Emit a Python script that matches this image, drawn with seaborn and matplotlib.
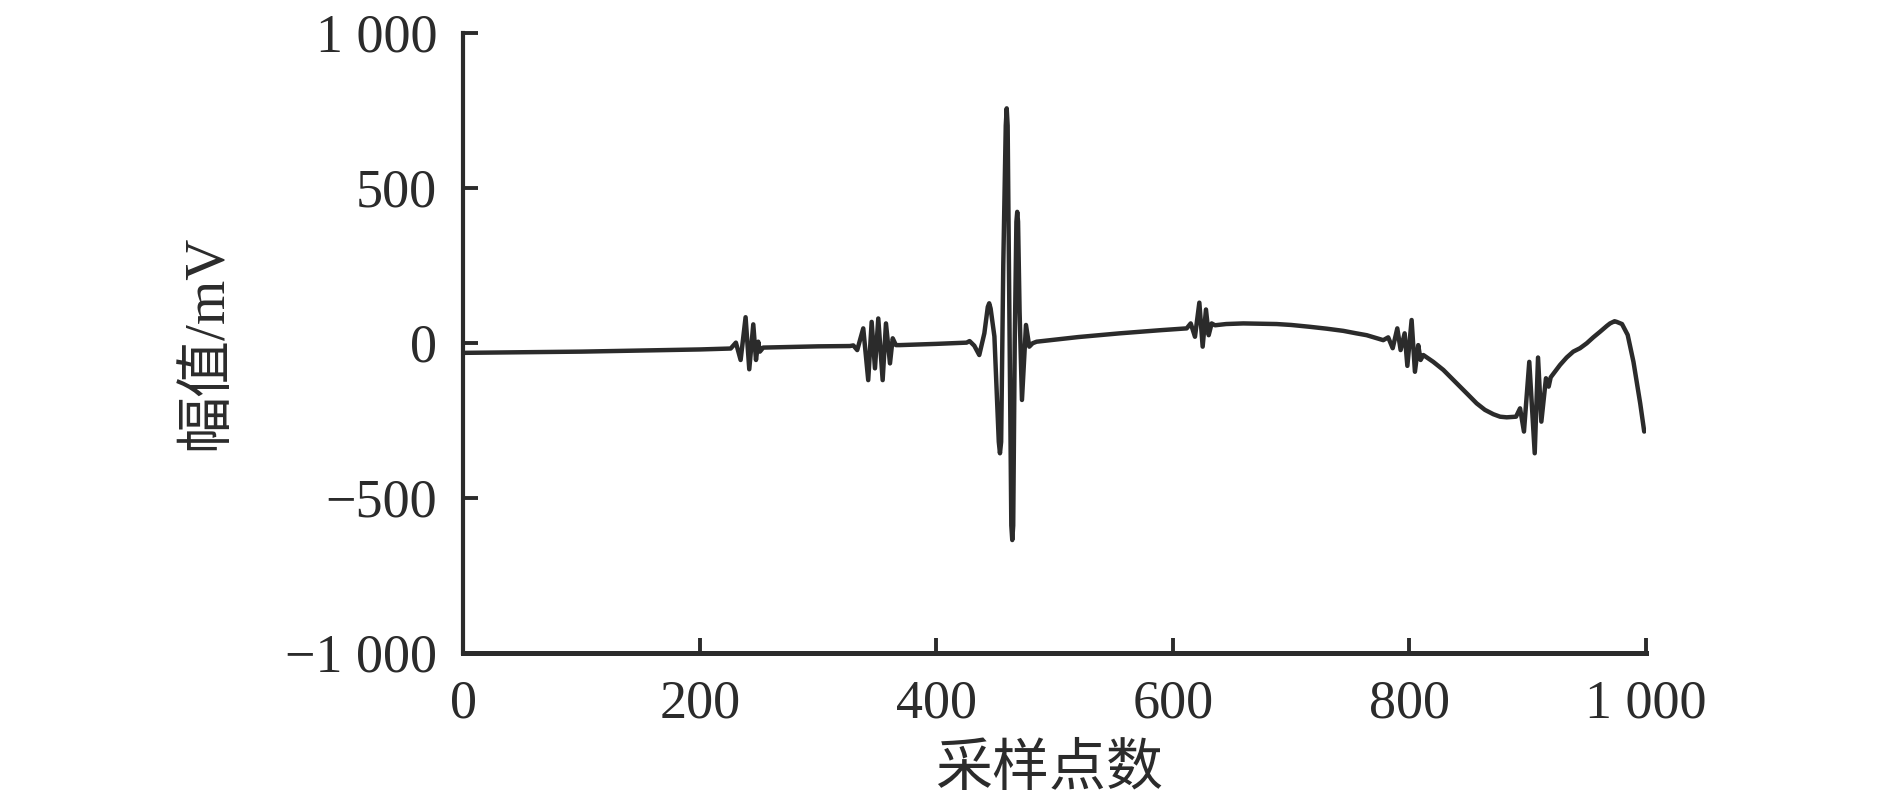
import matplotlib
matplotlib.use("Agg")
import matplotlib.pyplot as plt
import seaborn as sns
import pandas as pd

# ---- data (sample index, amplitude in mV) ----
sample_idx = [0, 100, 200, 226, 230.4, 234.4, 238.6, 241.7, 245.1, 247.4, 249.3, 250.7, 253.5,
              300, 326.8, 329.7, 333, 338.1, 342.3, 345.2, 348, 350.8, 354.5, 357.3, 360.7, 363, 365.7, 369.1,
              400, 425.5, 428, 432, 436.2, 440.5, 443.4, 444.6, 445.8, 449, 452.7, 453.7, 454.7, 456.5,
              458.6, 459.4, 460.2, 461.8, 463.3, 464.1, 464.9, 466.2, 467.6, 468.3, 469, 470.3,
              472.3, 475.7, 478.5, 481.3, 484.7, 520, 555,
              589, 611.6, 615, 618.6, 622.3, 625.1, 627.9, 630.2, 632.7, 635.5, 645, 659.5, 687.7, 700,
              715.9, 730, 744, 755, 763.8,
              777.8, 782, 785.8, 789.7, 792.5, 795.9, 798.2, 801.8, 804.6, 807.4, 809.4, 811.7,
              820.1, 828.6, 835.7, 842.7, 849.8, 856.8, 863.8, 870.9, 876.6, 882.2, 890.1, 893.5, 896.8,
              901.3, 905.9, 908.7, 911.5, 915.4, 917.7,
              919.4, 927.3, 932.9, 938.5, 944.2, 949.9, 955.4, 961.1, 966.9, 969.6, 973.4, 975.2, 979.7,
              984.5, 989.4, 995.1, 998.5]
amplitude = [-33, -29, -22, -19, 0, -56, 82, -86, 59, -56, 3, -29, -16,
             -12, -11, -9, -24, 46, -121, 67, -83, 78, -121, 62, -67, 14, -8, -8,
             -4, 0, 5, -10, -40, 30, 115, 127, 110, 20, -320, -357, -320, 250,
             700, 756, 700, 50, -590, -637, -590, 0, 390, 422, 390, 100,
             -185, 57, -13, -2, 3, 18, 30,
             40, 46, 62, 19, 129, -13, 107, 24, 62, 56, 60, 62, 60, 57,
             51, 45, 38, 30, 24,
             8, 17, -18, 46, -24, 30, -75, 73, -94, -8, -56, -40,
             -62, -88, -115, -142, -169, -196, -217, -231, -239, -241, -239, -212, -287,
             -62, -357, -48, -255, -115, -142,
             -112, -72, -48, -29, -18, -2, 17, 35, 54, 62, 69, 67, 60,
             25, -62, -196, -287]

x_ticks = [0, 200, 400, 600, 800, 1000]
x_ticklabels = ["0", "200", "400", "600", "800", "1 000"]
y_ticks = [-1000, -500, 0, 500, 1000]
y_ticklabels = ["\u22121 000", "\u2212500", "0", "500", "1 000"]
x_label = "采样点数"
y_label = "幅值/mV"

sns.set_theme(style="ticks")
plt.rcParams["font.family"] = ["Liberation Serif", "Noto Sans CJK SC"]
plt.rcParams["axes.unicode_minus"] = True

ink = "#2b2b2b"
fig = plt.figure(figsize=(18.9, 8.1), dpi=100)
ax = fig.add_axes([0.2452, 0.1944, 0.6257, 0.7652])

df = pd.DataFrame({"x": sample_idx, "y": amplitude})
sns.lineplot(data=df, x="x", y="y", ax=ax, color=ink, linewidth=3.2,
             estimator=None, sort=False)
for ln in ax.get_lines():
    ln.set_solid_joinstyle("round")
    ln.set_solid_capstyle("round")

ax.set_xlim(0, 1000)
ax.set_ylim(-1000, 1000)
ax.set_xticks(x_ticks)
ax.set_xticklabels(x_ticklabels)
ax.set_yticks(y_ticks)
ax.set_yticklabels(y_ticklabels)

for side in ["top", "right"]:
    ax.spines[side].set_visible(False)
ax.spines["left"].set_linewidth(3.0)
ax.spines["bottom"].set_linewidth(3.6)
for side in ["left", "bottom"]:
    ax.spines[side].set_color(ink)

ax.tick_params(axis="both", direction="in", length=11, width=2.8, color=ink,
               labelsize=39, labelcolor=ink, pad=19)

ax.set_xlabel(x_label, fontsize=41, color=ink, va="center",
              family=["Liberation Serif", "Noto Sans CJK SC"])
ax.set_ylabel(y_label, fontsize=41, color=ink, va="center",
              family=["Liberation Serif", "Noto Sans CJK SC"])
ax.xaxis.set_label_coords(0.495, -0.191)
ax.yaxis.set_label_coords(-0.217, 0.5)

fig.savefig("out.png", dpi=100, facecolor="white")
